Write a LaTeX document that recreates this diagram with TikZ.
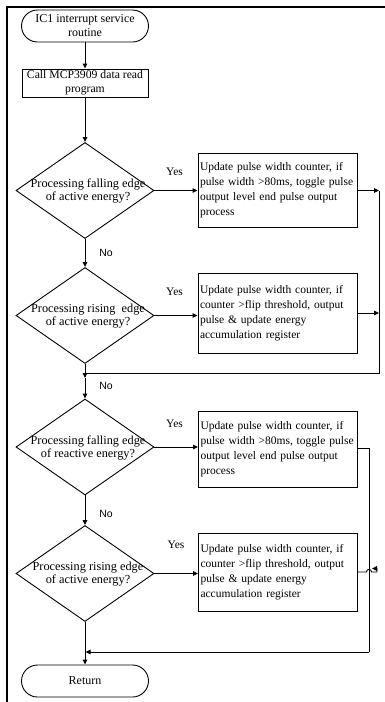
\documentclass[tikz,border=0pt]{standalone}
\usepackage{fontspec}
\setmainfont{Liberation Serif}
\newfontfamily\dfont{Liberation Serif}
\newfontfamily\nofont{Liberation Sans}
\usetikzlibrary{shapes.geometric,arrows.meta}
\begin{document}
\begin{tikzpicture}[x=1pt,y=-1pt,
  line width=0.9pt,
  arr/.style={-{Triangle[length=5pt,width=4.5pt]}},
  term/.style={draw,rounded corners=16pt,minimum width=127pt,minimum height=32pt,inner sep=0pt,align=center,font=\fontsize{12}{14}\selectfont},
  proc/.style={draw,minimum width=126pt,minimum height=28pt,inner sep=0pt,align=center,font=\fontsize{11.7}{14}\selectfont},
  dia/.style={draw,diamond,minimum width=138pt,minimum height=96pt,inner sep=0pt},
  dtext/.style={align=center,inner sep=0pt,font=\dfont\fontsize{12.3}{13}\selectfont},
  ubox/.style={draw,minimum width=159pt,inner sep=2pt,text width=155pt,align=left,font=\fontsize{11.5}{15}\selectfont},
  yes/.style={font=\fontsize{11.5}{12}\selectfont,inner sep=0pt},
  no/.style={font=\nofont\fontsize{10.5}{12}\selectfont,inner sep=0pt},
  frameline/.style={line width=2.2pt}
]
\useasboundingbox (0,0) rectangle (385,702);
\draw[frameline] (7,702) -- (7,7) -- (385,7);

% left column
\node[term] (start) at (85,26) {IC1 interrupt service\\routine};
\node[proc] (call) at (85,83) {Call MCP3909 data read\\program};
\node[dia] (d1) at (85,190.5) {};
\node[dtext] (t1) at (88,191) {Processing falling edge\\of active energy?};
\node[dia] (d2) at (85,315.5) {};
\node[dtext] (t2) at (88,316) {Processing rising\ \ edge\\of active energy?};
\node[dia] (d3) at (85,447) {};
\node[dtext] (t3) at (88,447.5) {Processing falling edge\\of reactive energy?};
\node[dia] (d4) at (85,573.5) {};
\node[dtext] (t4) at (88,574) {Processing rising edge\\of active energy?};
\node[term] (ret) at (85,681) {Return};

% right column
\node[ubox,minimum height=74pt] (b1) at (277.5,190) {Update pulse width counter, if\\pulse width >80ms, toggle pulse\\output level end pulse output\\process};
\node[ubox,minimum height=80pt] (b2) at (277.5,313) {Update pulse width counter, if\\counter >flip threshold, output\\pulse \& update energy\\accumulation register};
\node[ubox,minimum height=76pt] (b3) at (278,449) {Update pulse width counter, if\\pulse width >80ms, toggle pulse\\output level end pulse output\\process};
\node[ubox,minimum height=78pt] (b4) at (278,572) {Update pulse width counter, if\\counter >flip threshold, output\\pulse \& update energy\\accumulation register};

% labels
\node[yes] (y1) at (174.5,172) {Yes};
\node[yes] (y2) at (174.5,292) {Yes};
\node[yes] (y3) at (174.5,424) {Yes};
\node[yes] (y4) at (176,545) {Yes};
\node[no] (n1) at (106,253) {No};
\node[no] (n2) at (106,386) {No};
\node[no] (n3) at (106,514) {No};

% coordinates
\coordinate (r1a) at (379,190.5);
\coordinate (r1b) at (379,373);
\coordinate (j1) at (85,373);
\coordinate (j1b) at (85,378);
\coordinate (r2a) at (369,448);
\coordinate (r2b) at (369,652);
\coordinate (j2) at (85.5,652);

% main flow
\draw[arr] (start) -- (call);
\draw[arr] (call) -- (d1);
\draw[arr] (d1) -- (d2);
\draw (d2.south) -- (j1);
\draw[arr] (j1) -- (j1b);
\draw[arr] (j1b) -- (d3.north);
\draw[arr] (d3) -- (d4);
\draw[arr] (d4) -- (ret);

% yes branches
\draw[arr] (d1.east) -- (b1.west |- d1.east);
\draw[arr] (d2.east) -- (b2.west |- d2.east);
\draw[arr] (d3.east) -- (b3.west |- d3.east);
\draw[arr] (d4.east) -- (b4.west |- d4.east);

% returns of first pair
\draw[arr] (b1.east |- r1a) -- (r1a);
\draw[arr] (b2.east) -- (b2.east -| r1a);
\draw (r1a) -- (r1b) -- (j1);

% returns of second pair
\draw (b3.east |- r2a) -- (r2a) -- (r2b);
\draw[arr] (r2b) -- (j2);
\draw[arr] (b4.east) -- (366.5,572) .. controls (366.5,568.5) and (371.5,568.5) .. (371.5,572) -- (377,572) -- (377,568.5) -- (372,568.5);
\end{tikzpicture}
\end{document}
